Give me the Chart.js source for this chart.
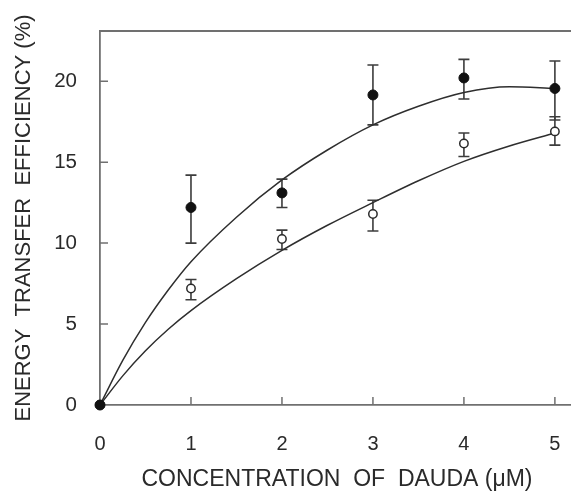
<!DOCTYPE html>
<html>
<head>
<meta charset="utf-8">
<script src="https://cdn.jsdelivr.net/npm/chart.js@4.4.1/dist/chart.umd.min.js"></script>
<style>
  html, body { margin: 0; padding: 0; background: #fff; overflow: hidden; }
  #wrap { width: 580px; height: 491px; }
</style>
</head>
<body>
<div id="wrap"><canvas id="c" width="580" height="491"></canvas></div>
<script>
// ---- data ----
const conc = [0, 1, 2, 3, 4, 5];
const filledMean = [0, 12.2, 13.1, 19.15, 20.2, 19.55];
const filledLow  = [0, 10.0, 12.2, 17.3, 18.9, 17.6];
const filledHigh = [0, 14.2, 13.95, 21.0, 21.35, 21.25];
const openMean = [0, 7.2, 10.25, 11.8, 16.15, 16.9];
const openLow  = [0, 6.5, 9.6, 10.75, 15.35, 16.05];
const openHigh = [0, 7.75, 10.8, 12.65, 16.8, 17.8];

const fitX      = [0, 0.25, 0.5, 0.75, 1, 1.5, 2, 2.5, 3, 3.5, 4, 4.5, 5];
const fitFilled = [0, 2.75, 5.1, 7.1, 8.85, 11.6, 13.9, 15.75, 17.3, 18.45, 19.3, 19.65, 19.55];
const fitOpen   = [0, 1.8, 3.35, 4.68, 5.83, 7.8, 9.55, 11.1, 12.5, 13.85, 15.05, 16.0, 16.8];

const xTicks = [0, 1, 2, 3, 4, 5];
const yTicks = [0, 5, 10, 15, 20];

const toPts = (xs, ys) => xs.map((v, i) => ({x: v, y: ys[i]}));

const AXIS = '#707070';
const TEXT = '#2a2a2a';
const FONT = '"Liberation Sans", Arial, Helvetica, sans-serif';

const zeroPad = s => { s.paddingLeft = 0; s.paddingRight = 0; s.paddingTop = 0; s.paddingBottom = 0; };

const decor = {
  id: 'decor',
  beforeDatasetsDraw(chart) {
    const {ctx, scales: {x, y}} = chart;
    ctx.save();
    ctx.strokeStyle = '#3c3c3c';
    ctx.lineWidth = 1.6;
    [[filledLow, filledHigh], [openLow, openHigh]].forEach(([lo, hi]) => {
      conc.forEach((c, i) => {
        if (lo[i] === hi[i]) return;
        const px = x.getPixelForValue(c);
        const y1 = y.getPixelForValue(lo[i]);
        const y2 = y.getPixelForValue(hi[i]);
        ctx.beginPath();
        ctx.moveTo(px, y1); ctx.lineTo(px, y2);
        ctx.moveTo(px - 5.5, y1); ctx.lineTo(px + 5.5, y1);
        ctx.moveTo(px - 5.5, y2); ctx.lineTo(px + 5.5, y2);
        ctx.stroke();
      });
    });
    ctx.restore();
  },
  afterDraw(chart) {
    const {ctx, chartArea: a, scales: {x, y}} = chart;
    ctx.save();
    ctx.strokeStyle = AXIS;
    ctx.lineWidth = 1.8;
    ctx.beginPath();
    ctx.moveTo(a.left, a.top); ctx.lineTo(a.right, a.top);
    ctx.stroke();
    ctx.lineWidth = 1.5;
    ctx.beginPath();
    xTicks.forEach(v => {
      if (v === 0) return;
      const px = x.getPixelForValue(v);
      ctx.moveTo(px, a.bottom); ctx.lineTo(px, a.bottom - 8);
    });
    yTicks.forEach(v => {
      if (v === 0) return;
      const py = y.getPixelForValue(v);
      ctx.moveTo(a.left, py); ctx.lineTo(a.left + 8, py);
    });
    ctx.stroke();
    ctx.restore();
  }
};

new Chart(document.getElementById('c'), {
  type: 'scatter',
  data: {
    datasets: [
      {
        type: 'line', data: toPts(fitX, fitFilled), borderColor: '#2e2e2e', borderWidth: 1.5,
        pointRadius: 0, fill: false, cubicInterpolationMode: 'monotone', order: 3
      },
      {
        type: 'line', data: toPts(fitX, fitOpen), borderColor: '#2e2e2e', borderWidth: 1.5,
        pointRadius: 0, fill: false, cubicInterpolationMode: 'monotone', order: 3
      },
      {
        data: toPts(conc, openMean), pointRadius: 4.2, pointBackgroundColor: '#ffffff',
        pointBorderColor: '#2a2a2a', pointBorderWidth: 1.5, order: 2
      },
      {
        data: toPts(conc, filledMean), pointRadius: 5, pointBackgroundColor: '#111111',
        pointBorderColor: '#111111', pointBorderWidth: 1, order: 1
      }
    ]
  },
  options: {
    responsive: false,
    animation: false,
    clip: false,
    layout: { padding: { top: 31, right: 4, bottom: 0, left: 0 } },
    plugins: { legend: { display: false }, tooltip: { enabled: false } },
    scales: {
      x: {
        type: 'linear', min: 0, max: 5.21,
        afterFit: s => { s.height = 86; zeroPad(s); },
        afterBuildTicks: s => { s.ticks = xTicks.map(v => ({value: v})); },
        grid: { display: false, drawTicks: false },
        border: { display: true, color: AXIS, width: 1.8 },
        ticks: { padding: 27, color: TEXT, font: { family: FONT, size: 20 }, maxRotation: 0, includeBounds: false },
        title: {
          display: true, text: 'CONCENTRATION  OF  DAUDA (μM)', color: TEXT,
          font: { family: FONT, size: 23, lineHeight: 1 }, padding: { top: 0, bottom: 0 }
        }
      },
      y: {
        type: 'linear', min: 0, max: 23.1,
        afterFit: s => { s.width = 100; zeroPad(s); },
        afterBuildTicks: s => { s.ticks = yTicks.map(v => ({value: v})); },
        grid: { display: false, drawTicks: false },
        border: { display: true, color: AXIS, width: 1.8 },
        ticks: { padding: 23, color: TEXT, font: { family: FONT, size: 20.5 }, includeBounds: false },
        title: {
          display: true, text: 'ENERGY  TRANSFER  EFFICIENCY (%)', color: TEXT,
          font: { family: FONT, size: 22, lineHeight: 1.2 }, padding: { top: 11, bottom: 0 }
        }
      }
    }
  },
  plugins: [decor]
});
</script>
</body>
</html>
